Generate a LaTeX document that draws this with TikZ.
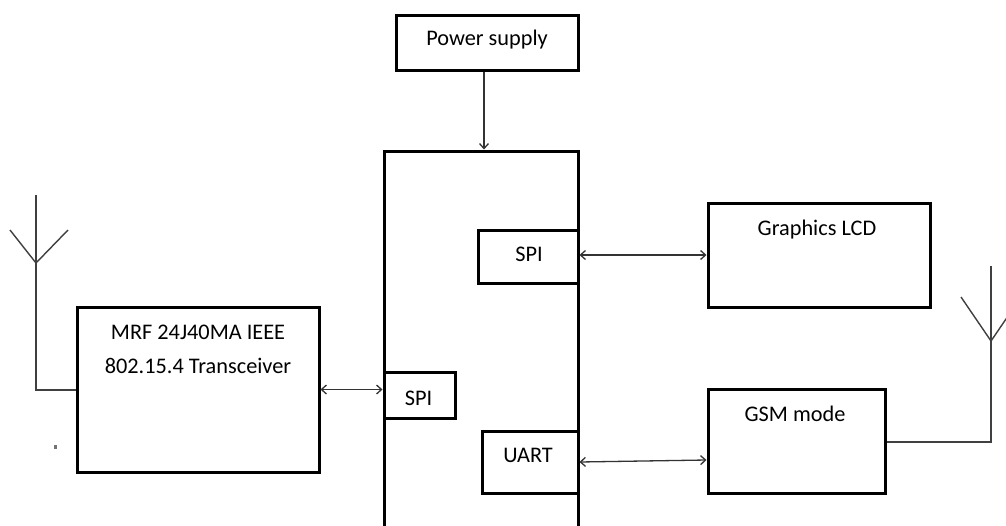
\documentclass[tikz,border=0pt]{standalone}
\usepackage{fontspec}
\setmainfont{Carlito}
\usetikzlibrary{arrows.meta}
\tikzset{
  blk/.style={draw=black, line width=3pt, rectangle, inner sep=0pt},
  txt/.style={anchor=base, inner sep=0pt, font=\fontsize{22.3}{33}\selectfont, text=black},
  wire/.style={draw=black!80, line width=1.3pt},
  dbl/.style={wire, {Straight Barb[length=5pt,width=9pt]}-{Straight Barb[length=5pt,width=9pt]}},
  sgl/.style={wire, -{Straight Barb[length=5pt,width=9pt]}},
  ant/.style={draw=black!75, line width=1.4pt}
}
\begin{document}
\begin{tikzpicture}[x=1pt,y=-1pt]
\fill[white] (0,0) rectangle (1006,525);
\useasboundingbox (0,0) rectangle (1006,525);

% boxes
\node[blk, minimum width=182pt, minimum height=55pt] (power) at (487,42.5) {};
\node[blk, minimum width=194pt, minimum height=420pt] (mcu) at (481,361) {};
\node[blk, fill=white, minimum width=100pt, minimum height=53pt] (spiA) at (528,256.5) {};
\node[blk, minimum width=222pt, minimum height=104pt] (lcd) at (819,255) {};
\node[blk, fill=white, minimum width=71pt, minimum height=46pt] (spiB) at (419.5,395) {};
\node[blk, fill=white, minimum width=96pt, minimum height=62pt] (uart) at (530,462) {};
\node[blk, minimum width=177pt, minimum height=104pt] (gsm) at (796.5,441) {};
\node[blk, minimum width=242pt, minimum height=165pt] (mrf) at (198,389.5) {};

% texts
\node[txt] (tpower) at (487,45.5) {Power supply};
\node[txt] (tlcd) at (817,235) {Graphics LCD};
\node[txt] (tgsm) at (795,421) {GSM mode};
\node[txt] (tspiA) at (529,261) {SPI};
\node[txt] (tspiB) at (418.5,405) {SPI};
\node[txt] (tuart) at (528,462) {UART};
\node[txt] (tmrfa) at (198,339) {MRF 24J40MA IEEE};
\node[txt] (tmrfb) at (198,373) {802.15.4 Transceiver};

% connectors
\draw[sgl] ([xshift=-3pt]power.south) -- ([xshift=-3pt]power.south |- mcu.north);
\draw[dbl] (lcd.west -| spiA.east) -- (lcd.west);
\draw[dbl] (mrf.east) -- (mrf.east -| spiB.west);
\draw[dbl] (uart.east) -- ([yshift=2pt]gsm.west |- uart.east);

% left antenna
\coordinate (la) at (36,390);
\coordinate (lt) at (36,195);
\coordinate (lv) at (36,263);
\draw[ant] (mrf.west |- la) -- (la) -- (lt);
\draw[ant] (10,230) -- (lv) -- (68,230);

% right antenna
\coordinate (ra) at (991,442);
\coordinate (rt) at (991,266);
\coordinate (rv) at (991,341);
\draw[ant] (gsm.east |- ra) -- (ra) -- (rt);
\draw[ant] (961,297) -- (rv) -- (1021,297);

% stray mark
\fill[black!55] (54,445) rectangle (57,449);
\end{tikzpicture}
\end{document}
